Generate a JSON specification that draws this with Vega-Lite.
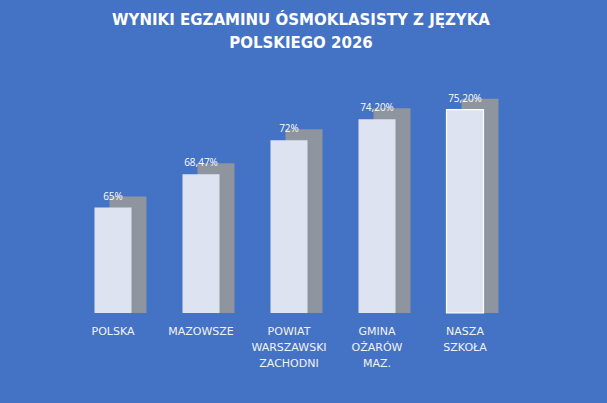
{
  "$schema": "https://vega.github.io/schema/vega-lite/v6.json",
  "width": 440,
  "height": 211,
  "autosize": {"type": "none"},
  "padding": {"left": 69, "top": 102, "right": 98, "bottom": 90},
  "background": "#4472C4",
  "title": {
    "text": ["WYNIKI EGZAMINU ÓSMOKLASISTY Z JĘZYKA", "POLSKIEGO 2026"],
    "font": "DejaVu Sans",
    "fontSize": 15,
    "fontWeight": "bold",
    "color": "#FFFFFF",
    "lineHeight": 23,
    "anchor": "middle",
    "frame": "group",
    "dx": 12,
    "offset": 43
  },
  "data": {
    "values": [
      {"obszar": "POLSKA", "wynik": 65, "etykieta": "65%"},
      {"obszar": "MAZOWSZE", "wynik": 68.47, "etykieta": "68,47%"},
      {"obszar": "POWIAT WARSZAWSKI ZACHODNI", "wynik": 72, "etykieta": "72%"},
      {"obszar": "GMINA OŻARÓW MAZ.", "wynik": 74.2, "etykieta": "74,20%"},
      {"obszar": "NASZA SZKOŁA", "wynik": 75.2, "etykieta": "75,20%"}
    ]
  },
  "encoding": {
    "x": {
      "field": "obszar",
      "type": "nominal",
      "sort": null,
      "scale": {"paddingInner": 0, "paddingOuter": 0},
      "axis": {
        "title": null,
        "domain": false,
        "ticks": false,
        "labelAngle": 0,
        "labelFont": "DejaVu Sans",
        "labelFontSize": 11,
        "labelColor": "#F2F2F2",
        "labelPadding": 12,
        "labelLineHeight": 16,
        "labelExpr": "split(datum.label, ' ')"
      }
    },
    "y": {
      "field": "wynik",
      "type": "quantitative",
      "scale": {"domain": [54, 76], "zero": false},
      "axis": null
    },
    "y2": {"datum": 54}
  },
  "layer": [
    {
      "mark": {"type": "bar", "width": 37, "xOffset": 15, "yOffset": -11, "color": "#8F959E"}
    },
    {
      "mark": {"type": "bar", "width": 37, "color": "#DDE3F1", "strokeWidth": 1.2},
      "encoding": {
        "stroke": {
          "condition": {"test": "datum.obszar == 'NASZA SZKOŁA'", "value": "#FFFFFF"},
          "value": null
        }
      }
    },
    {
      "mark": {"type": "text", "baseline": "bottom", "dy": -6, "font": "Open Sans", "fontSize": 10, "color": "#FFFFFF"},
      "encoding": {
        "text": {"field": "etykieta"},
        "y2": null
      }
    }
  ],
  "config": {"view": {"stroke": null}}
}
